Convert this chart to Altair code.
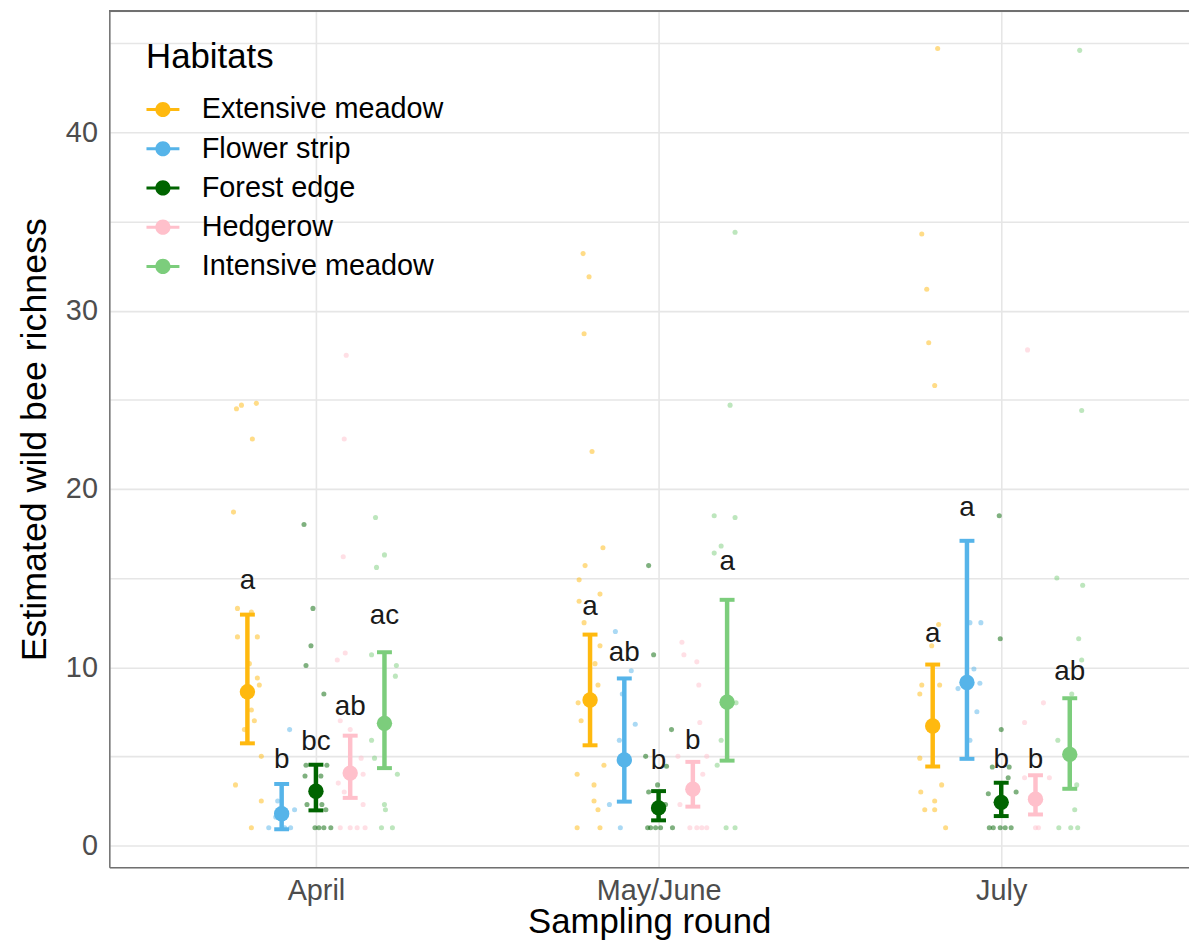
import altair as alt
import pandas as pd

# ---------------- data ----------------
rounds = ["April", "May/June", "July"]
habitats = ["Extensive meadow", "Flower strip", "Forest edge", "Hedgerow", "Intensive meadow"]
colors = ["#FFB90F", "#56B4E9", "#006400", "#FFC0CB", "#7CCD7C"]

# model estimates (habitat order as above)
est_mean = {
    "April": [8.62, 1.78, 3.04, 4.06, 6.85],
    "May/June": [8.16, 4.80, 2.11, 3.16, 8.04],
    "July": [6.70, 9.14, 2.42, 2.60, 5.11],
}
est_lower = {
    "April": [5.73, 0.91, 1.97, 2.67, 4.34],
    "May/June": [5.62, 2.46, 1.41, 2.18, 4.76],
    "July": [4.43, 4.86, 1.65, 1.74, 3.18],
}
est_upper = {
    "April": [12.95, 3.45, 4.53, 6.16, 10.84],
    "May/June": [11.83, 9.37, 3.05, 4.69, 13.78],
    "July": [10.15, 17.09, 3.52, 3.94, 8.26],
}
letters = {
    "April": ["a", "b", "bc", "ab", "ac"],
    "May/June": ["a", "ab", "b", "b", "a"],
    "July": ["a", "a", "b", "b", "ab"],
}
letter_y = {
    "April": [14.41, 4.33, 5.35, 7.30, 12.43],
    "May/June": [12.95, 10.33, 4.28, 5.41, 15.48],
    "July": [11.42, 18.46, 4.32, 4.32, 9.28],
}

# raw site values (richness) and their horizontal jitter (px at 345 px per round)
raw_values = {
    ("April", "Extensive meadow"): [24.5, 24.7, 24.8, 22.8, 18.7, 13.3, 13.1, 11.7, 11.7, 10.2, 9.4, 9.0, 7.6, 7.0, 6.5, 5.0, 3.4, 2.5, 1.0],
    ("April", "Flower strip"): [6.5, 2.5, 2.0, 1.0, 1.0, 1.6, 1.0],
    ("April", "Forest edge"): [18.0, 13.3, 11.2, 10.1, 8.5, 4.5, 4.5, 3.9, 3.9, 2.3, 2.3, 2.0, 1.0, 1.0, 1.0, 1.0],
    ("April", "Hedgerow"): [27.5, 22.8, 16.2, 10.8, 10.4, 7.0, 6.5, 4.9, 4.0, 3.5, 3.0, 2.3, 1.0, 1.0, 1.0, 1.0],
    ("April", "Intensive meadow"): [18.4, 16.3, 15.6, 10.7, 10.1, 9.5, 5.9, 4.9, 4.0, 2.3, 2.0, 1.0, 1.0],
    ("May/June", "Extensive meadow"): [33.2, 31.9, 28.7, 22.1, 16.7, 15.7, 14.9, 14.1, 13.7, 12.5, 11.2, 10.2, 9.0, 8.0, 7.0, 4.5, 4.0, 3.4, 2.5, 2.0, 1.0, 1.0],
    ("May/June", "Flower strip"): [12.0, 9.8, 8.5, 6.8, 5.9, 2.3, 1.0],
    ("May/June", "Forest edge"): [15.7, 10.7, 6.5, 5.0, 4.45, 3.4, 3.0, 2.3, 1.0, 1.0, 1.0, 1.0, 1.0],
    ("May/June", "Hedgerow"): [11.4, 10.7, 10.3, 9.0, 6.9, 5.0, 5.0, 4.0, 2.3, 1.0, 1.0, 1.0, 1.0],
    ("May/June", "Intensive meadow"): [34.4, 24.7, 18.5, 18.4, 16.8, 16.4, 8.0, 5.9, 4.5, 1.0, 1.0],
    ("July", "Extensive meadow"): [44.7, 34.3, 31.2, 28.2, 25.8, 12.4, 11.2, 9.0, 9.0, 8.5, 4.9, 3.0, 3.4, 2.5, 2.0, 2.0, 1.0],
    ("July", "Flower strip"): [12.5, 12.5, 9.9, 9.1, 8.8, 7.5, 5.9],
    ("July", "Forest edge"): [18.5, 11.6, 6.5, 4.4, 4.4, 3.8, 3.0, 2.9, 1.0, 1.0, 1.0, 1.0, 1.0],
    ("July", "Hedgerow"): [27.8, 8.0, 6.9, 3.8, 3.8, 2.7, 1.0, 1.0],
    ("July", "Intensive meadow"): [44.6, 24.4, 15.0, 14.6, 11.6, 10.4, 8.5, 5.9, 3.4, 2.0, 1.0, 1.0, 1.0],
}
raw_jitter = {
    ("April", "Extensive meadow"): [-11, -6, 9, 5, -14, -10, 4, -10, 10, 2, 10, 12, 4, 7, -3, 14, -12, 14, 4],
    ("April", "Flower strip"): [8, -4, 13, -13, 9, -6, 3],
    ("April", "Forest edge"): [-12, -3, -5, -10, 8, -10, 11, -11, 5, -9, 6, 10, -1, 3, 8, 15],
    ("April", "Hedgerow"): [-4, -6, -7, -5, -13, -10, 0, 11, 13, -12, -6, 13, -10, 0, 7, 15],
    ("April", "Intensive meadow"): [-9, 0, -8, -13, 12, 11, -13, -10, 13, 0, 1, -3, 8],
    ("May/June", "Extensive meadow"): [-7, -1, -6, 2, 13, -5, -11, 10, -11, -6, 10, 5, 8, -12, -9, 14, -13, 4, 4, 8, -13, 10],
    ("May/June", "Flower strip"): [-9, 7, -2, 11, -5, -15, -4],
    ("May/June", "Forest edge"): [-10, -5, 13, -13, 8, -1, -10, 7, -11, -8, -3, 2, 14],
    ("May/June", "Hedgerow"): [-11, -9, 4, 6, 7, -15, 14, 10, -13, -3, 4, 9, 14],
    ("May/June", "Intensive meadow"): [8, 3, -13, 8, -6, -13, 9, -6, -10, -1, 8],
    ("July", "Extensive meadow"): [5, -11, -6, -4, 2, 6, -1, -11, 7, -13, -13, -12, 9, 2, -8, 2, 13],
    ("July", "Flower strip"): [3, 14, 7, 13, -9, 10, 3],
    ("July", "Forest edge"): [-2, -1, 0, -9, 8, 7, 15, -13, -12, -8, -1, 4, 10],
    ("July", "Hedgerow"): [-8, 8, -11, -11, 14, -5, 0, 3],
    ("July", "Intensive meadow"): [10, 12, -13, 13, 9, 12, 2, -12, 7, 5, -11, 1, 8],
}

# ---------------- tables ----------------
DODGE = 0.1          # spacing between habitats within a round (round units)
PX_PER_ROUND = 345.0

est_rows, raw_rows = [], []
for ri, r in enumerate(rounds):
    for hi, h in enumerate(habitats):
        xc = ri + 1 + (hi - 2) * DODGE
        est_rows.append(dict(round=r, habitat=h, x=xc, mean=est_mean[r][hi],
                             lower=est_lower[r][hi], upper=est_upper[r][hi],
                             letter=letters[r][hi], ly=letter_y[r][hi]))
        for v, j in zip(raw_values[(r, h)], raw_jitter[(r, h)]):
            raw_rows.append(dict(round=r, habitat=h, x=xc + j / PX_PER_ROUND, value=v))
est = pd.DataFrame(est_rows)
raw = pd.DataFrame(raw_rows)

# ---------------- scales / axes ----------------
W, H = 1087, 862
FONT = "Liberation Sans"
xscale = alt.Scale(domain=[0.397, 3.548], nice=False, zero=False)
yscale = alt.Scale(domain=[-1.226, 46.8], nice=False, zero=False)
cscale = alt.Scale(domain=habitats, range=colors)

x_label_expr = " : ".join(f"datum.value == {i + 1} ? '{r}'" for i, r in enumerate(rounds[:-1])) + f" : '{rounds[-1]}'"

xaxis = alt.Axis(values=[1, 2, 3], labelExpr=x_label_expr, title="Sampling round",
                 grid=True, ticks=False, tickSize=0, labelPadding=9,
                 labelFontSize=29, labelColor="#4d4d4d", titleFontSize=35,
                 titleFontWeight="normal", titleColor="black",
                 titleBaseline="alphabetic", titleY=66,
                 domainColor="#707070", domainWidth=1.5,
                 gridColor="#e6e6e6", gridWidth=1.6)
yaxis = alt.Axis(values=list(range(0, 50, 5)),
                 labelExpr="datum.value % 10 == 0 ? datum.label : ''",
                 title="Estimated wild bee richness", grid=True, ticks=False,
                 tickSize=0, labelPadding=12, labelFontSize=29,
                 labelColor="#4d4d4d", titleFontSize=36, titleFontWeight="normal",
                 titleColor="black", titleBaseline="alphabetic", titleX=-64,
                 titleY=H / 2, domainColor="#707070", domainWidth=1.5,
                 gridColor="#e6e6e6", gridWidth=1.6)

X = alt.X("x:Q", scale=xscale, axis=xaxis)
def Y(field):
    return alt.Y(f"{field}:Q", scale=yscale, axis=yaxis)

nolegend = alt.Color("habitat:N", scale=cscale, legend=None)

SYMBOL = ("M-1,-0.09L-0.44,-0.09L-0.44,0.09L-1,0.09Z "
          "M0.44,-0.09L1,-0.09L1,0.09L0.44,0.09Z "
          "M0.46,0A0.46,0.46,0,1,1,-0.46,0A0.46,0.46,0,1,1,0.46,0Z")
legend = alt.Legend(title="Habitats", orient="none", legendX=37, legendY=29,
                    symbolType=SYMBOL, symbolSize=1100, symbolOpacity=1,
                    symbolStrokeWidth=0, labelFontSize=29, labelColor="black",
                    labelFont=FONT, titleFont=FONT, labelLimit=500,
                    titleFontSize=35, titleFontWeight="normal", titleColor="black",
                    titlePadding=18, rowPadding=7.5, labelOffset=22, padding=0)

# ---------------- layers ----------------
raw_layer = alt.Chart(raw).mark_circle(size=26, opacity=0.5).encode(
    x=X, y=Y("value"), color=nolegend)

bars = alt.Chart(est).mark_rule(strokeWidth=4.5).encode(
    x=X, y=Y("lower"), y2="upper:Q", color=nolegend)
cap_lo = alt.Chart(est).mark_tick(orient="horizontal", size=15, thickness=4, opacity=1).encode(
    x=X, y=Y("lower"), color=nolegend)
cap_hi = alt.Chart(est).mark_tick(orient="horizontal", size=15, thickness=4, opacity=1).encode(
    x=X, y=Y("upper"), color=nolegend)
means = alt.Chart(est).mark_circle(size=240, opacity=1).encode(
    x=X, y=Y("mean"), color=alt.Color("habitat:N", scale=cscale, legend=legend))
texts = alt.Chart(est).mark_text(fontSize=28, baseline="alphabetic", align="center",
                                 color="#1a1a1a", font=FONT).encode(
    x=X, y=Y("ly"), text="letter:N")
top_border = alt.Chart(est).mark_rule(color="#707070", strokeWidth=1.5).encode(
    x=alt.value(0), x2=alt.value(W), y=alt.value(0))

chart = alt.layer(raw_layer, bars, cap_lo, cap_hi, means, texts, top_border).resolve_legend(
    color="independent"
).properties(
    width=W, height=H,
    padding={"left": 102, "top": 0, "right": 0, "bottom": 74},
    autosize=alt.AutoSizeParams(type="none"),
    background="white",
).configure_view(stroke=None).configure(font=FONT)

chart.save("out.html", embed_options={"renderer": "svg", "actions": False})
